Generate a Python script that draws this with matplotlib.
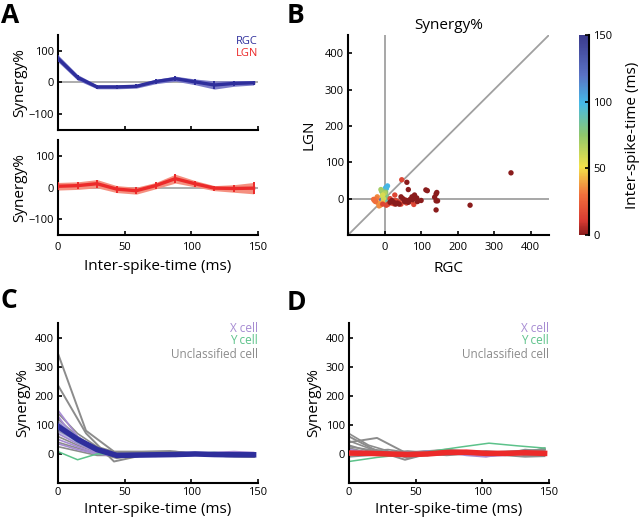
import numpy as np
import matplotlib
matplotlib.use('Agg')
import matplotlib.pyplot as plt
from matplotlib.colors import LinearSegmentedColormap

plt.rcParams['font.family'] = ['Open Sans', 'DejaVu Sans']

# ---- data ----
t_bins = [0, 14.7, 29.3, 44, 58.7, 73.3, 88, 102.7, 117.3, 132, 146.7]
t_bins2 = [0, 21, 42, 63, 84, 105, 126, 147]

rgc_mean = [76, 16, -14, -14, -12, 3, 12, 2, -8, -3, -1]
rgc_err = [11, 9, 6, 6, 6, 7, 8, 9, 13, 9, 7]
lgn_mean = [4, 6, 12, -5, -10, 6, 28, 12, -2, -3, -2]
lgn_err = [12, 12, 13, 11, 11, 10, 14, 10, 8, 12, 18]

# panel B: per-cell synergy at each inter-spike time
b_rgc = [346, 234, 141, 141, 141, 145, 137, 143, 113, 117, 65, 61, 82, 88, 77,
         60, 55, 50, 45, 35, 30, 25, 65, 70, 100, 20, 15, 40, 75, 90,
         47, 80, 28, 45, 35, 20, 10, 55, 15, 5, -5, 30, 60, 70, 40, 25,
         -30, -25, -15, -10, -20, -5, -28, -12, -18, -22,
         -5, 0, -8, 5, -3, 2, -10, 3, -6, 1,
         8, 3, 0, -5, 5,
         -5, 0, 5, -8, 2, -2, 4, -3, 6]
b_lgn = [71, -18, -31, 13, -6, -6, 4, 17, 24, 22, 25, 45, 10, 2, -3,
         -5, -8, 0, 5, -12, -15, -10, -10, -2, -5, -5, -10, -15, 5, -8,
         52, -16, 10, -15, -8, -12, -15, -3, 0, -18, -15, -5, -12, -8, -10, -14,
         -2, -8, -20, -15, 5, -10, -5, -18, -12, 0,
         10, 15, 20, 5, 0, -5, 25, 18, 8, 12,
         35, 30, 22, 12, 28,
         -5, 0, -8, -3, 5, -12, 2, 6, -6]
b_ist = [0] * 30 + [15] * 16 + [29, 29, 35, 40, 35, 44, 29, 40, 38, 32] + \
        [58, 66, 73, 80, 60, 88, 70, 75, 62, 84] + [100, 102, 95, 105, 98] + \
        [117, 147, 132, 125, 140, 147, 120, 135, 128]

# panel C: RGC cells
c_unclass = [[120, 60, 15, -5, 0, 2, 0, 3, 0, -2, -5],
             [80, 45, 10, -10, -3, 0, 5, 0, -3, -5, -8],
             [60, 30, 5, -15, -5, 0, 3, 2, 0, -5, -3],
             [40, 20, 0, -8, 0, 5, 8, 0, -2, -8, -10],
             [25, 10, -5, -5, 2, 0, -3, 0, 3, 0, -5],
             [100, 55, 20, 0, 5, 0, 0, -2, 0, 0, -3],
             [140, 70, 25, 5, 0, -3, 0, 0, -5, -3, 0]]
c_unclass2 = [[345, 80, 8, 8, 10, 0, -3, -5],
              [236, 71, -26, -5, 0, 0, -8, -10]]
c_xcell = [[150, 60, 10, -8, -5, -8, -3, 0, 5, 8, 5],
           [110, 50, 0, -5, -2, 0, -5, -3, 0, 5, 0],
           [70, 35, 5, 0, -3, -5, 0, 2, 3, 0, -2],
           [50, 25, 0, -3, 0, 0, -8, -5, 0, 3, 0],
           [130, 40, 10, -5, 0, 0, 0, 0, 0, -2, 0],
           [35, 15, 0, -5, -8, -5, -3, 0, 2, 5, 0]]
c_ycell = [[8, -20, 0, 0, -2, 0, 0, 2, 5, 0, 0],
           [90, 40, 10, 0, 0, 2, 0, 0, 0, 0, 0]]
c_mean = [95, 50, 15, -5, -4, -3, -2, 0, -2, -3, -3]
c_err = [22, 13, 8, 4, 3, 3, 3, 3, 3, 3, 3]

# panel D: LGN cells
d_unclass = [[70, 30, 10, -15, 0, 5, 10, 5, 5, 10, 5],
             [45, 20, 5, 10, 5, 8, 5, 0, 0, 5, 2],
             [30, 10, 15, 5, 0, -5, 0, 10, 5, -5, -3],
             [20, 5, -5, -10, -5, 0, 10, 5, 0, 15, 10],
             [10, 0, 0, 5, 10, 15, 10, 8, 5, 5, 20],
             [-10, -5, 0, 5, -5, 0, 5, 0, -5, -10, -8],
             [25, 15, 5, 0, 5, 5, 10, 5, 0, 5, 0]]
d_unclass2 = [[40, 55, 5, 10, 5, 5, 0, 0],
              [60, 10, -20, 5, 10, 5, 10, 15]]
d_xcell = [[5, 0, 5, 0, 10, 5, -5, -10, 0, 5, 0],
           [15, 5, 0, 5, 0, 5, 0, -8, -5, 10, 5]]
d_ycell = [[-26, -12, -2, 10, 24, 37, 28, 20]]
d_mean = [3, 2, 0, -2, 0, 5, 6, 2, 2, 4, 2]
d_err = [6, 5, 4, 4, 4, 4, 4, 4, 4, 4, 4]

BLUE = '#2e2e9c'
RED = '#ec2a2a'
GRAY = '#8c8c8c'
PURPLE = '#a68bd2'
GREEN = '#5cc28a'

cmap = LinearSegmentedColormap.from_list(
    'ist', [(0, '#8a1c1c'), (0.07, '#d83a32'), (0.2, '#f0703c'),
            (0.34, '#f3e24a'), (0.5, '#8fc76c'), (0.66, '#45b9e8'),
            (0.8, '#5a72c4'), (1.0, '#3a3a8c')])

fig = plt.figure(figsize=(6.4, 5.26), dpi=100)

TICK = 8
LAB = 11


def style(ax):
    for s in ['top', 'right']:
        ax.spines[s].set_visible(False)
    for s in ['left', 'bottom']:
        ax.spines[s].set_linewidth(1.5)
    ax.tick_params(direction='in', length=3, width=1.2, labelsize=TICK, pad=3)


# ---- A ----
axA1 = fig.add_axes([0.0906, 0.7529, 0.3125, 0.1806])
axA2 = fig.add_axes([0.0906, 0.5532, 0.3125, 0.1806])
for ax, m, e, c, fc in [(axA1, rgc_mean, rgc_err, BLUE, '#7c7cc8'),
                        (axA2, lgn_mean, lgn_err, RED, '#f59080')]:
    ax.axhline(0, color='#a0a0a0', lw=1.2, zorder=1)
    lo = np.array(m) - np.array(e)
    hi = np.array(m) + np.array(e)
    ax.fill_between(t_bins, lo, hi, color=fc, lw=0, zorder=2)
    ax.errorbar(t_bins, m, yerr=e, color=c, lw=2.4, elinewidth=1.4,
                capsize=0, zorder=3)
    ax.set_xlim(0, 150)
    ax.set_ylim(-150, 150)
    ax.set_yticks([-100, 0, 100])
    ax.set_xticks([0, 50, 100, 150])
    ax.set_ylabel('Synergy%', fontsize=LAB, labelpad=1)
    style(ax)
axA1.set_xticklabels([])
axA2.set_xlabel('Inter-spike-time (ms)', fontsize=LAB, labelpad=4)
axA2.tick_params(axis='x', pad=5)
axA1.text(1.0, 0.935, 'RGC', color=BLUE, fontsize=8, ha='right', va='center',
          transform=axA1.transAxes)
axA1.text(1.0, 0.805, 'LGN', color=RED, fontsize=8, ha='right', va='center',
          transform=axA1.transAxes)

# ---- B ----
axB = fig.add_axes([0.5438, 0.5532, 0.314, 0.3802])
axB.axhline(0, color='#a0a0a0', lw=1.3, zorder=1)
axB.axvline(0, color='#a0a0a0', lw=1.3, zorder=1)
axB.plot([-100, 450], [-100, 450], color='#a0a0a0', lw=1.3, zorder=1)
order = np.argsort(b_ist)[::-1]
sc = axB.scatter(np.array(b_rgc)[order], np.array(b_lgn)[order], c=np.array(b_ist)[order],
                 cmap=cmap, vmin=0, vmax=150, s=15, lw=0, zorder=3)
axB.set_xlim(-100, 450)
axB.set_ylim(-100, 450)
axB.set_xticks([0, 100, 200, 300, 400])
axB.set_yticks([0, 100, 200, 300, 400])
axB.set_xlabel('RGC', fontsize=LAB, labelpad=6)
axB.set_ylabel('LGN', fontsize=LAB, labelpad=6)
axB.set_title('Synergy%', fontsize=LAB, pad=4)
style(axB)
axB.tick_params(axis='x', pad=5)

cax = fig.add_axes([0.9047, 0.5532, 0.0156, 0.3802])
cb = fig.colorbar(sc, cax=cax, ticks=[0, 50, 100, 150])
cb.outline.set_visible(False)
cax.plot([1, 1], [0, 1], transform=cax.transAxes, color='k', lw=1.5, clip_on=False)
cax.tick_params(direction='in', length=3, width=1.2, labelsize=TICK, pad=3)
cb.set_label('Inter-spike-time (ms)', fontsize=LAB, labelpad=9)

# ---- C, D ----
axC = fig.add_axes([0.0906, 0.0817, 0.3125, 0.3042])
axD = fig.add_axes([0.5453, 0.0817, 0.3125, 0.3042])
for ax, un, un2, xc, yc, m, e, c, fc in [
        (axC, c_unclass, c_unclass2, c_xcell, c_ycell, c_mean, c_err, BLUE, '#9898d8'),
        (axD, d_unclass, d_unclass2, d_xcell, d_ycell, d_mean, d_err, RED, '#f5a090')]:
    for y in un:
        ax.plot(t_bins, y, color=GRAY, lw=1.2, zorder=2)
    for y in un2:
        ax.plot(t_bins2, y, color=GRAY, lw=1.4, zorder=2)
    for y in xc:
        ax.plot(t_bins, y, color=PURPLE, lw=1.2, zorder=2)
    for y in yc:
        xs = t_bins if len(y) == len(t_bins) else t_bins2
        ax.plot(xs, y, color=GREEN, lw=1.1, zorder=2)
    lo = np.array(m) - np.array(e)
    hi = np.array(m) + np.array(e)
    ax.fill_between(t_bins, lo, hi, color=fc, alpha=0.6, lw=0, zorder=3)
    ax.plot(t_bins, m, color=c, lw=4, zorder=4)
    ax.set_xlim(0, 150)
    ax.set_ylim(-100, 450)
    ax.set_xticks([0, 50, 100, 150])
    ax.set_yticks([0, 100, 200, 300, 400])
    ax.set_xlabel('Inter-spike-time (ms)', fontsize=LAB, labelpad=3)
    ax.set_ylabel('Synergy%', fontsize=LAB, labelpad=3)
    ax.tick_params(axis='x', pad=5)
    ax.text(1.0, 0.967, 'X cell', color=PURPLE, fontsize=8.5, ha='right', va='center',
            transform=ax.transAxes)
    ax.text(1.0, 0.888, 'Y cell', color=GREEN, fontsize=8.5, ha='right', va='center',
            transform=ax.transAxes)
    ax.text(1.0, 0.806, 'Unclassified cell', color=GRAY, fontsize=8.5, ha='right',
            va='center', transform=ax.transAxes)
    style(ax)

# panel letters
for lab, x, y in [('A', 1, 2), ('B', 287, 2), ('C', 0, 287), ('D', 287, 289)]:
    fig.text(x / 640, 1 - y / 526, lab, fontsize=19, fontweight='bold',
             ha='left', va='top')

fig.savefig('out.png', dpi=100)
